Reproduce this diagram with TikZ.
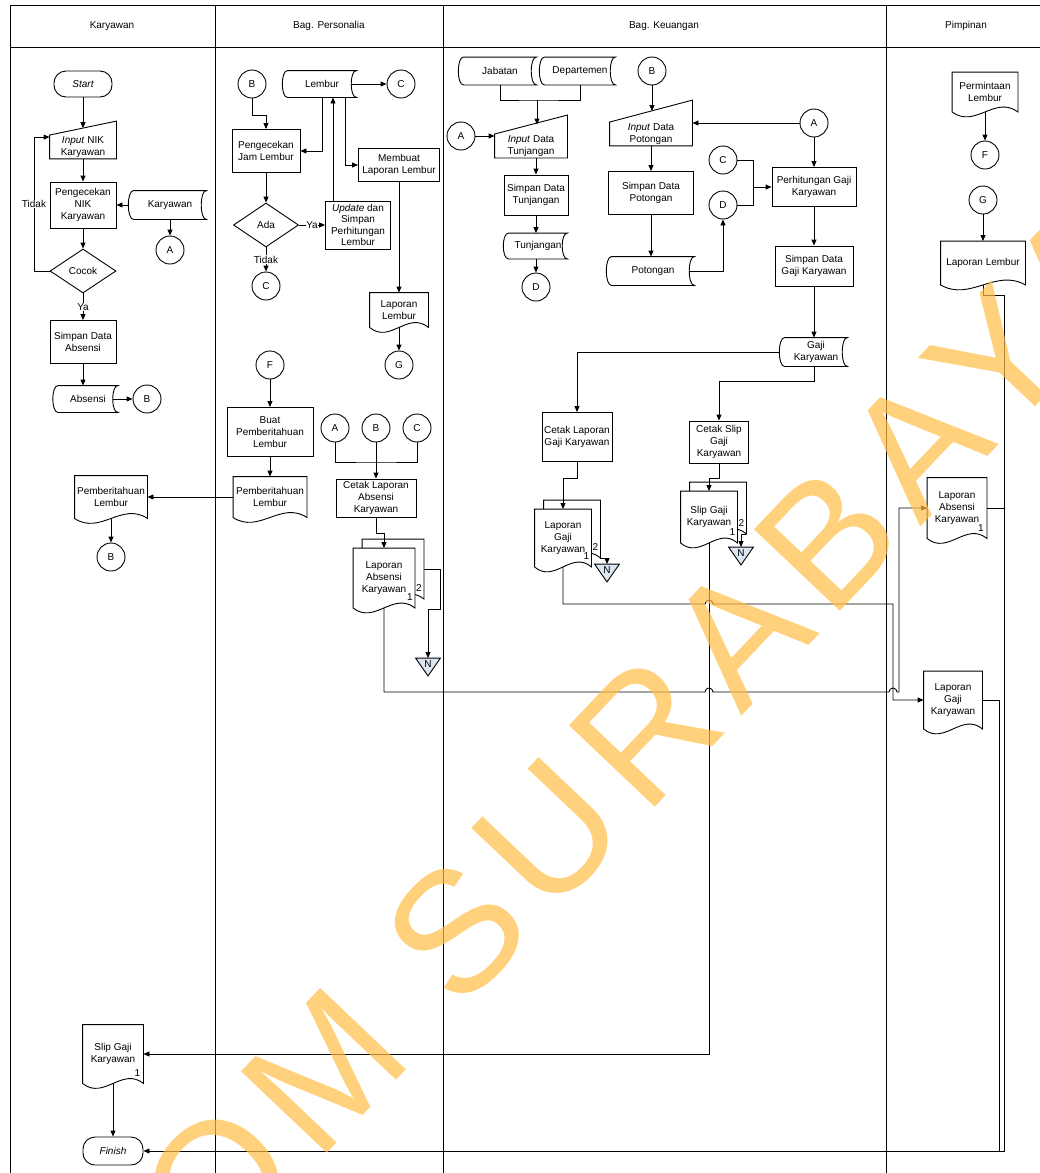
\documentclass[tikz,border=0pt]{standalone}
\usepackage{fontspec}
\setmainfont{Liberation Sans}
\newfontfamily\stampfont[LetterSpace=9]{Liberation Sans}
\usetikzlibrary{arrows.meta,shapes.geometric,calc}
\definecolor{offblue}{RGB}{220,230,242}
\definecolor{stamp}{RGB}{255,190,70}
% outline of a document symbol, shifted by (#2,#3)
\newcommand\dokpath[3]{($(#1.south east)+(#2,#3)$) -- ($(#1.north east)+(#2,#3)$) -- ($(#1.north west)+(#2,#3)$) -- ($(#1.south west)+(#2,#3)$) .. controls ($(#1.south west)!0.35!(#1.south east)+(#2,#3+17)$) and ($(#1.south west)!0.65!(#1.south east)+(#2,#3-17)$) .. ($(#1.south east)+(#2,#3)$) -- cycle}
\tikzset{
  txt/.style={font=\fontsize{10}{12}\selectfont, align=center, inner sep=1pt},
  arr/.style={-{Triangle[length=6pt,width=5pt]}},
  ket/.style={txt, fill=white, inner sep=0.5pt},
  proses/.style 2 args={txt, draw, minimum width=#1pt, minimum height=#2pt},
  term/.style 2 args={txt, draw, minimum width=#1pt, minimum height=#2pt, rounded corners=12pt, font=\fontsize{10}{12}\selectfont\itshape},
  keputusan/.style 2 args={txt, draw, diamond, minimum width=#1pt, minimum height=#2pt, inner sep=0pt},
  lingkaran/.style={txt, draw, circle, minimum size=28pt, inner sep=0pt},
  dsimpan/.style 2 args={txt, minimum width=#1pt, minimum height=#2pt,
    append after command={\pgfextra{\let\lastnd\tikzlastnode
      \draw (\lastnd.north west) -- (\lastnd.north east) .. controls +(-7,0) and +(-7,0) .. (\lastnd.south east) -- (\lastnd.south west) .. controls +(-7,0) and +(-7,0) .. (\lastnd.north west) -- cycle;
      \coordinate (\lastnd-w) at ($(\lastnd.west)+(-5.25,0)$);
      \coordinate (\lastnd-e) at ($(\lastnd.east)+(-5.25,0)$);}}},
  manin/.style n args={3}{txt, minimum width=#1pt, minimum height=#2pt,
    append after command={\pgfextra{\let\lastnd\tikzlastnode
      \draw (\lastnd.south west) -- (\lastnd.south east) -- ($(\lastnd.north east)+(0,-#3)$) -- (\lastnd.north west) -- cycle;
      \coordinate (\lastnd-top) at ($(\lastnd.north)+(0,-#3/2)$);}}},
  dok/.style 2 args={txt, minimum width=#1pt, minimum height=#2pt,
    append after command={\pgfextra{\let\lastnd\tikzlastnode
      \path[draw, fill=white] \dokpath{\lastnd}{0}{0};}}},
  dokone/.style 2 args={dok={#1}{#2},
    append after command={\pgfextra{\let\lastnd\tikzlastnode
      \node[txt] (\lastnd-one) at ($(\lastnd.south east)+(-6,-10)$) {1};}}},
  mdok/.style 2 args={txt, minimum width=#1pt, minimum height=#2pt,
    append after command={\pgfextra{\let\lastnd\tikzlastnode
      \path[draw, fill=white] \dokpath{\lastnd}{9}{-9};
      \path[draw, fill=white] \dokpath{\lastnd}{0}{0};
      \coordinate (\lastnd-bk) at ($(\lastnd.east)+(9,-9)$);
      \coordinate (\lastnd-bse) at ($(\lastnd.south east)+(9,-9)$);
      \node[txt] (\lastnd-two) at ($(\lastnd.south east)+(4,-20)$) {2};
      \node[txt] (\lastnd-one) at ($(\lastnd.south east)+(-5,-11)$) {1};}}},
  offpg/.style={txt, minimum width=24pt, minimum height=17pt, inner sep=0pt, text depth=5pt,
    append after command={\pgfextra{\let\lastnd\tikzlastnode
      \path[draw, fill=offblue] (\lastnd.north west) -- (\lastnd.north east) -- (\lastnd.south) -- cycle;}}}
}
\begin{document}
\begin{tikzpicture}[x=1pt,y=-1pt,line width=0.9pt]
\useasboundingbox (0,0) rectangle (1040,1173);
% swimlanes
\draw (10,5) -- (1046,5);
\draw (10,47) -- (1046,47);
\foreach \x in {10,215,443,886,1046} \draw (\x,5) -- (\x,1173);
\foreach \x/\n/\lbl in {112/hdKar/Karyawan, 329/hdPers/Bag. Personalia, 664/hdKeu/Bag. Keuangan, 966/hdPim/Pimpinan}
  \node[txt] (\n) at (\x,26) {\lbl};

% Karyawan
\node[term={58}{26}] (start) at (83,84) {Start};
\node[manin={66}{21}{14}] (inNIK) at (83,147) {\textit{Input} NIK\\Karyawan};
\node[proses={66}{46}] (cekNIK) at (83,205) {Pengecekan\\NIK\\Karyawan};
\node[dsimpan={72}{28}] (dbKar) at (170,205) {Karyawan};
\node[lingkaran] (A1) at (170,250) {A};
\node[keputusan={66}{44}] (cocok) at (83,271) {Cocok};
\node[proses={66}{43}] (smpAbs) at (83,342) {Simpan Data\\Absensi};
\node[dsimpan={59}{26}] (dbAbs) at (88,399) {Absensi};
\node[lingkaran] (B1) at (147,399) {B};
\node[dok={72}{42}] (pebK) at (111,497) {Pemberitahuan\\Lembur};
\node[lingkaran] (B2) at (111,557) {B};
\node[dokone={60}{58}] (slipK) at (113,1054) {Slip Gaji\\Karyawan};
\node[term={60}{28}] (finish) at (113,1151) {Finish};

% Bag. Personalia
\node[lingkaran] (B3) at (252,84) {B};
\node[dsimpan={68}{26}] (dbLem) at (322,84) {Lembur};
\node[lingkaran] (C1) at (401,84) {C};
\node[proses={68}{43}] (cekJam) at (266,151) {Pengecekan\\Jam Lembur};
\node[keputusan={65}{44}] (ada) at (266,225) {Ada};
\node[proses={65}{48}, font=\fontsize{10}{11.5}\selectfont] (upd) at (358,225) {\textit{Update} dan\\Simpan\\Perhitungan\\Lembur};
\node[lingkaran] (C4) at (266,286) {C};
\node[proses={81}{33}] (mkLap) at (399,165) {Membuat\\Laporan Lembur};
\node[dok={58}{34}] (lapLem) at (399,310) {Laporan\\Lembur};
\node[lingkaran] (G1) at (399,365) {G};
\node[lingkaran] (F1) at (270,365) {F};
\node[proses={86}{49}] (buat) at (270,432) {Buat\\Pemberitahuan\\Lembur};
\node[dok={73}{40}] (pebP) at (270,497) {Pemberitahuan\\Lembur};
\node[lingkaran] (A2) at (335,428) {A};
\node[lingkaran] (B4) at (376,428) {B};
\node[lingkaran] (C2) at (417,428) {C};
\node[proses={80}{38}] (cetAbs) at (376,498) {Cetak Laporan\\Absensi\\Karyawan};
\node[mdok={61}{59}] (lapAbs) at (384,578) {Laporan\\Absensi\\Karyawan};
\node[offpg] (N1) at (428,667) {N};

% Bag. Keuangan
\node[dsimpan={72}{27}] (dbJab) at (500,71) {Jabatan};
\node[dsimpan={70}{27}] (dbDep) at (580,71) {Departemen};
\node[lingkaran] (A3) at (461,136) {A};
\node[manin={72}{23}{19}] (inTun) at (531,146) {\textit{Input} Data\\Tunjangan};
\node[proses={64}{40}] (smpTun) at (536,195) {Simpan Data\\Tunjangan};
\node[dsimpan={58}{25}] (dbTun) at (538,246) {Tunjangan};
\node[lingkaran] (D1) at (536,287) {D};
\node[lingkaran] (B5) at (652,71) {B};
\node[manin={82}{21}{22}] (inPot) at (651,134) {\textit{Input} Data\\Potongan};
\node[lingkaran] (A4) at (814,123) {A};
\node[proses={85}{43}] (smpPot) at (651,193) {Simpan Data\\Potongan};
\node[dsimpan={82}{28}] (dbPot) at (653,271) {Potongan};
\node[lingkaran] (C3) at (723,160) {C};
\node[lingkaran] (D2) at (723,205) {D};
\node[proses={84}{39}] (perh) at (814,187) {Perhitungan Gaji\\Karyawan};
\node[proses={78}{40}] (smpGaji) at (814,266) {Simpan Data\\Gaji Karyawan};
\node[dsimpan={62}{28}] (dbGaji) at (816,352) {Gaji\\Karyawan};
\node[proses={70}{49}] (cetLap) at (577,437) {Cetak Laporan\\Gaji Karyawan};
\node[proses={59}{42}] (cetSlip) at (719,442) {Cetak Slip\\Gaji\\Karyawan};
\node[mdok={56}{57}] (lapGaji) at (563,538) {Laporan\\Gaji\\Karyawan};
\node[offpg] (N2) at (607,573) {N};
\node[mdok={56}{51}] (slipGaji) at (709,517) {Slip Gaji\\Karyawan};
\node[offpg] (N3) at (741,556) {N};

% Pimpinan
\node[dok={65}{39}] (mintaLem) at (985,92) {Permintaan\\Lembur};
\node[lingkaran] (F2) at (985,155) {F};
\node[lingkaran] (G2) at (983,200) {G};
\node[dok={84}{43}] (lapLemP) at (983,263) {Laporan Lembur};
\node[dokone={59}{60}] (lapAbsP) at (957,508) {Laporan\\Absensi\\Karyawan};
\node[dok={58}{57}] (lapGajiP) at (953,700) {Laporan\\Gaji\\Karyawan};

% arus Karyawan
\draw[arr] (start) -- (inNIK-top);
\draw[arr] (inNIK) -- (cekNIK);
\draw[arr] (dbKar-w) -- (cekNIK.east);
\draw[arr] (dbKar) -- (A1);
\draw[arr] (cekNIK) -- (cocok);
\coordinate (lpK) at (34,271);
\draw[arr] (cocok.west) -- (lpK) |- ([yshift=-2pt]inNIK.north west) node[ket, pos=0.25] {Tidak};
\draw[arr] (cocok) -- (smpAbs) node[ket, midway] {Ya};
\draw[arr] (smpAbs) -- (smpAbs |- dbAbs.north);
\draw[arr] (dbAbs-e) -- (B1);
\draw[arr] (pebP.west) -- (pebK.east);
\draw[arr] (pebK) -- (B2);
\draw[arr] (slipK) -- (finish);

% arus Personalia
\draw[arr] (B3) -- ++(0,31) -| (cekJam);
\draw[arr] (dbLem.south) |- (cekJam);
\draw[arr] ([xshift=-25pt]upd.north) -- ([xshift=-25pt]upd.north |- dbLem.south);
\draw[arr] ([xshift=23pt]dbLem.south) |- (mkLap);
\draw[arr] (dbLem-e) -- (C1);
\draw[arr] (cekJam) -- (ada);
\draw[arr] (ada) -- (upd) node[ket, midway] {Ya};
\draw[arr] (ada) -- (C4) node[ket, midway] {Tidak};
\draw[arr] (mkLap) -- (lapLem);
\draw[arr] (lapLem) -- (G1);
\draw[arr] (F1) -- (buat);
\draw[arr] (buat) -- (pebP);
\coordinate (jnABC) at (376,462);
\draw (A2) |- (jnABC) -| (C2);
\draw[arr] (B4) -- (cetAbs);
\draw[arr] (cetAbs) -- ++(0,35) -| (lapAbs.north);
\draw[arr] (lapAbs-bk) -- ++(16,0) -- ++(0,40) -| (N1);

% arus Keuangan
\coordinate (jnJD) at (537,100);
\draw (dbJab) |- (jnJD) -| (dbDep);
\draw[arr] (jnJD) -- (jnJD |- inTun-top);
\draw[arr] (A3) -- (A3 -| inTun.west);
\draw[arr] (smpTun |- inTun.south) -- (smpTun);
\draw[arr] (smpTun) -- (smpTun |- dbTun.north);
\draw[arr] (D1 |- dbTun.south) -- (D1);
\draw[arr] (B5) -- (B5 |- inPot-top);
\draw[arr] (A4) -- (A4 -| inPot.east);
\draw[arr] (inPot) -- (smpPot);
\draw[arr] (smpPot) -- (smpPot |- dbPot.north);
\draw[arr] (dbPot-e) -| (D2);
\coordinate (jnCD) at (753,187);
\draw[arr] (C3) -| (jnCD) -- (perh);
\draw (D2) -| (jnCD);
\draw[arr] (A4) -- (perh);
\draw[arr] (perh) -- (smpGaji);
\draw[arr] (smpGaji) -- (smpGaji |- dbGaji.north);
\draw[arr] (dbGaji-w) -| (cetLap);
\draw[arr] (smpGaji |- dbGaji.south) -- ++(0,15) -| (cetSlip);
\draw[arr] (cetLap) -- ++(0,41) -| (lapGaji.north);
\draw[arr] (cetSlip) -- ++(0,36) -| (slipGaji.north);
\draw[arr] (lapGaji-bse) -| (N2);
\draw[arr] (slipGaji-bse) -| (N3);

% antar bagian
\draw[arr] (lapAbs.south) |- (705,692) arc[start angle=180,end angle=360,radius=4] -- (889,692) arc[start angle=180,end angle=360,radius=4] -- (899,692) |- (lapAbsP.west);
\draw[arr] (lapGaji.south) |- (705,604) arc[start angle=180,end angle=360,radius=4] -- (893,604) |- (lapGajiP.west);
\draw[arr] (slipGaji.south) |- (slipK.east);

% arus Pimpinan
\draw[arr] (mintaLem) -- (F2);
\draw[arr] (G2) -- (lapLemP);
\coordinate (rtA) at (1004,0);
\coordinate (rtB) at (999,0);
\draw[arr] (lapLemP.south) -- ++(0,10) -| (finish.east -| rtA) -- (finish.east);
\draw (lapAbsP.east) -- (lapAbsP.east -| rtA);
\draw (lapGajiP.east) -| (finish.east -| rtB);

% watermark
\node[rotate=46.5, text=stamp, text opacity=0.7, inner sep=0pt, font=\stampfont\fontsize{172}{172}\selectfont] (cap) at (492,893) {STIKOM SURABAYA};
\end{tikzpicture}
\end{document}
